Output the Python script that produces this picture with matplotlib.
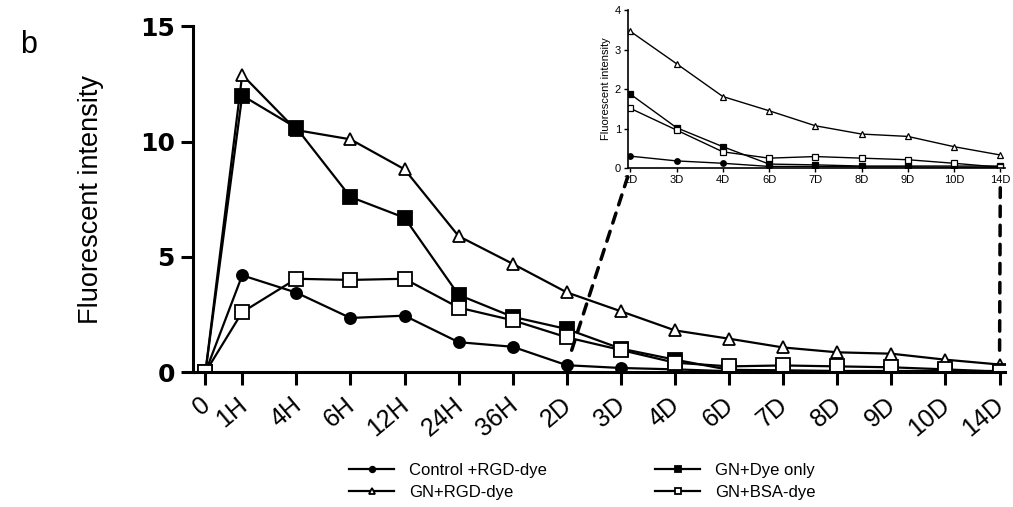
import matplotlib
matplotlib.use('Agg')
import matplotlib.pyplot as plt
from matplotlib.patches import ConnectionPatch

plt.rcParams['font.family'] = ['Liberation Sans', 'DejaVu Sans']

# time points and readings
time_labels = ['0', '1H', '4H', '6H', '12H', '24H', '36H', '2D', '3D', '4D',
               '6D', '7D', '8D', '9D', '10D', '14D']
time_pos = [0.32, 1, 2, 3, 4, 5, 6, 7, 8, 9, 10, 11, 12, 13, 14, 15]

control_rgd = [0, 4.2, 3.45, 2.35, 2.45, 1.3, 1.1, 0.3, 0.18, 0.12, 0.04, 0.04, 0.03, 0.03, 0.02, 0.02]
gn_rgd = [0, 12.9, 10.5, 10.1, 8.8, 5.9, 4.7, 3.46, 2.64, 1.81, 1.45, 1.07, 0.86, 0.8, 0.54, 0.33]
gn_dye = [0, 12.0, 10.6, 7.6, 6.7, 3.35, 2.4, 1.87, 1.02, 0.54, 0.1, 0.08, 0.05, 0.05, 0.05, 0.05]
gn_bsa = [0, 2.6, 4.05, 4.0, 4.05, 2.8, 2.25, 1.51, 0.96, 0.41, 0.25, 0.29, 0.25, 0.21, 0.12, 0.02]

series = [
    ('Control +RGD-dye', control_rgd, 'o', 'black', 8),
    ('GN+RGD-dye', gn_rgd, '^', 'white', 9),
    ('GN+Dye only', gn_dye, 's', 'black', 9.5),
    ('GN+BSA-dye', gn_bsa, 's', 'white', 9.5),
]

fig = plt.figure(figsize=(10.13, 5.07), dpi=100)
ax = fig.add_axes([0.1905, 0.266, 0.8016, 0.682])

for name, vals, mk, fc, ms in series:
    ax.plot(time_pos, vals, color='black', lw=1.6, marker=mk, ms=ms,
            mfc=fc, mec='black', mew=1.3, label=name)

ax.set_xlim(0.09, 15.1)
ax.set_ylim(0, 15)
ax.set_yticks([0, 5, 10, 15])
ax.set_xticks(time_pos)
ax.set_xticklabels(time_labels, rotation=40, ha='right', va='center_baseline',
                   rotation_mode='anchor', fontsize=18)
for lab in ax.get_yticklabels():
    lab.set_fontsize(18)
    lab.set_fontweight('bold')
    lab.set_family('DejaVu Sans')
ax.set_ylabel('Fluorescent intensity', fontsize=19.5, labelpad=26)
for s in ['top', 'right']:
    ax.spines[s].set_visible(False)
for s in ['left', 'bottom']:
    ax.spines[s].set_linewidth(2.2)
ax.tick_params(axis='both', width=2.2, length=9, pad=4)
ax.tick_params(axis='x', pad=11)

# inset with the late time points
late = slice(7, None)
ins = fig.add_axes([0.62, 0.6686, 0.372, 0.3116])
for name, vals, mk, fc, ms in series:
    ins.plot(range(len(time_labels[late])), vals[late], color='black', lw=1,
             marker=mk, ms=ms * 0.5, mfc=fc, mec='black', mew=0.9)
ins.set_xlim(-0.05, 8.1)
ins.set_ylim(0, 4)
ins.set_xticks(range(len(time_labels[late])))
ins.set_xticklabels(time_labels[late], fontsize=8)
ins.set_yticks([0, 1, 2, 3, 4])
ins.tick_params(labelsize=8, length=3, width=1, pad=2)
ins.set_ylabel('Fluorescent intensity', fontsize=8, labelpad=3)
for s in ['top', 'right']:
    ins.spines[s].set_visible(False)
for s in ['left', 'bottom']:
    ins.spines[s].set_linewidth(1.2)

# dashed zoom connectors
for xa, xb, yb in [(7.09, -0.06, -0.23), (15.0, 8.0, -0.5)]:
    con = ConnectionPatch(xyA=(xa, 0.95), coordsA=ax.transData,
                          xyB=(xb, yb), coordsB=ins.transData,
                          ls=(0, (3, 2.5)), lw=2.5, color='black')
    fig.add_artist(con)

fig.text(0.02, 0.895, 'b', fontsize=22)

handles, labels = ax.get_legend_handles_labels()
fig.legend(handles, labels, loc='center', bbox_to_anchor=(0.575, 0.05), ncol=2,
           frameon=False, fontsize=12, markerscale=0.5, handlelength=2.7,
           columnspacing=6.5, labelspacing=0.4, handletextpad=0.9)

fig.savefig('out.png', dpi=100)
